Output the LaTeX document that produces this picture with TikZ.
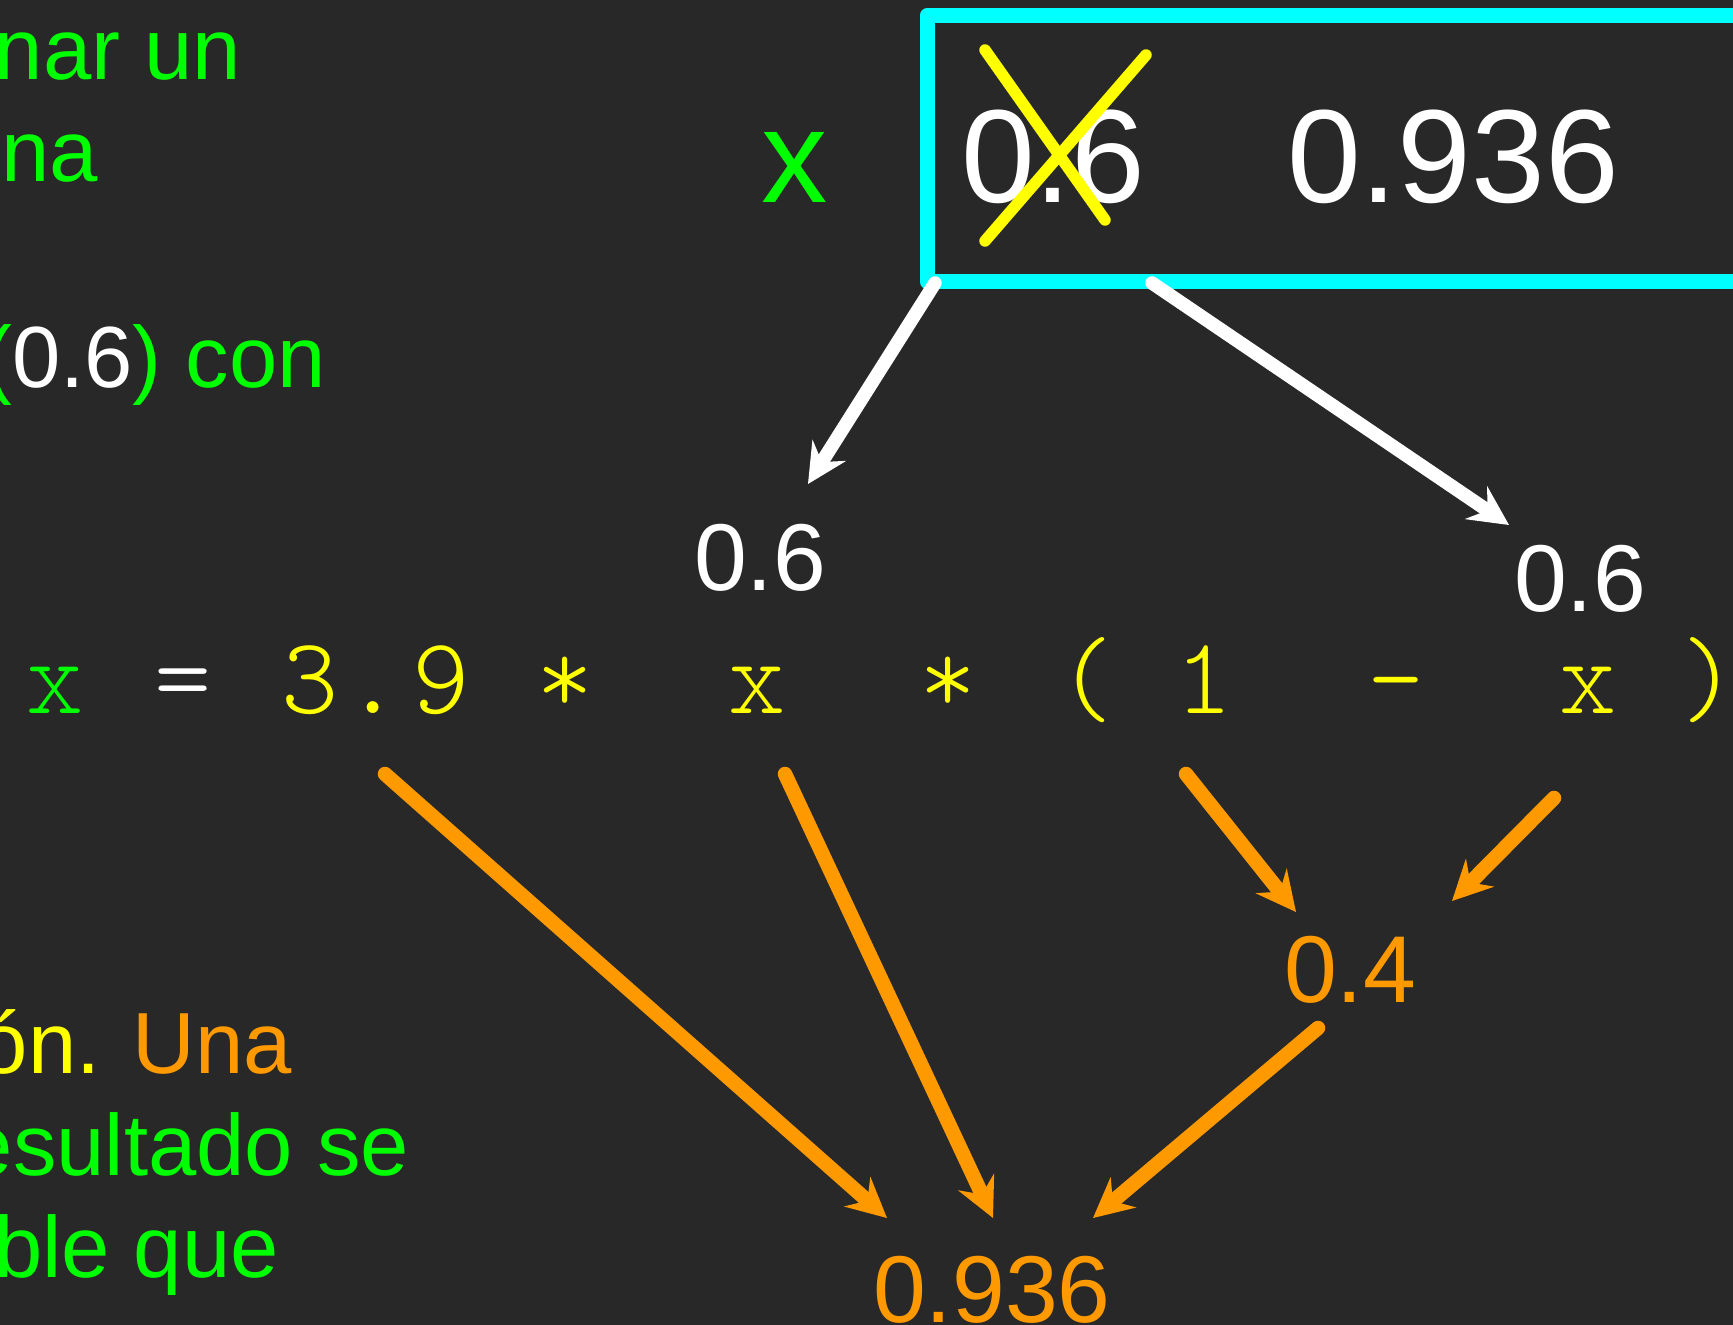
\documentclass[tikz,border=0pt]{standalone}
\usepackage{fontspec}
\setmainfont{Liberation Sans}
\newfontfamily\codefont{lmmonolt10-regular.otf}
\usetikzlibrary{arrows.meta}
\definecolor{bg}{RGB}{40,40,40}
\definecolor{grn}{RGB}{0,255,0}
\definecolor{ylw}{RGB}{255,255,0}
\definecolor{org}{RGB}{255,153,0}
\definecolor{cyn}{RGB}{0,255,255}
\begin{document}
\begin{tikzpicture}[x=0.01cm,y=-0.01cm,
  txt/.style={inner sep=0pt, outer sep=0pt},
  lefttext/.style={txt, anchor=base east, font=\fontsize{24.7pt}{29pt}\selectfont},
  bigtext/.style={txt, anchor=base west, font=\fontsize{37.7pt}{45pt}\selectfont, text=white},
  valtext/.style={txt, anchor=base, font=\fontsize{27pt}{32pt}\selectfont},
  code/.style={txt, anchor=base, font=\codefont\fontsize{31pt}{37pt}\selectfont, text=ylw},
  myhead/.style={-{Stealth[length=0.4cm,width=0.4cm,inset=0.14cm,line width=0pt]}},
  whitearrow/.style={draw=white, line width=0.135cm, line cap=round, myhead},
  orangearrow/.style={draw=org, line width=0.145cm, line cap=round, myhead},
]
\fill[bg] (0,0) rectangle (1733,1325);
\useasboundingbox (0,0) rectangle (1733,1325);

% left explanatory text fragments
\node[lefttext, text=grn] (l1) at (241,80) {nar un};
\node[lefttext, text=grn] (l2) at (98,182) {na};
\node[lefttext, text=grn] (l3) at (326,388) {(\textcolor{white}{0.6}) con};
\node[lefttext, text=ylw] (l4) at (292,1073) {ón. \textcolor{org}{Una}};
\node[lefttext, text=grn] (l5) at (409,1175) {esultado se};
\node[lefttext, text=grn] (l6) at (279,1277) {ble que};

% variable box
\draw[cyn, line width=0.15cm, line join=round] (927,15.5) rectangle (1850,282);
\node[bigtext, text=grn, anchor=base] (xlab) at (795,203) {x};
\node[bigtext] (old) at (961,203) {0.6};
\node[bigtext] (new) at (1287,203) {0.936};
\draw[ylw, line width=0.115cm, line cap=round] (985,50) -- (1105,220);
\draw[ylw, line width=0.115cm, line cap=round] (1146,55) -- (985,241);

% values read
\node[valtext, text=white] (v1) at (760,591) {0.6};
\node[valtext, text=white] (v2) at (1580,612) {0.6};
\node[valtext, text=org] (v4) at (1350,1002) {0.4};
\node[valtext, text=org] (res) at (992,1322) {0.936};

% code line
\node[code, text=grn] (cx) at (55,714) {x};
\node[code, text=white] (ceq) at (183,714) {=};
\node[code] (c3) at (310,714) {3};
\node[code] (cdot) at (373,714) {.};
\node[code] (c9) at (441,714) {9};
\node[code] (cm1) at (565,714) {*};
\node[code] (cx1) at (757,714) {x};
\node[code] (cm2) at (948,714) {*};
\node[code] (clp) at (1086,714) {(};
\node[code] (c1) at (1204,714) {1};
\node[code] (cmin) at (1396,714) {-};
\node[code] (cx2) at (1588,714) {x};
\node[code] (crp) at (1709,714) {)};

% arrow end points
\coordinate (w1s) at (935,283);  \coordinate (w1e) at (808,484);
\coordinate (w2s) at (1152,283); \coordinate (w2e) at (1509,525);
\coordinate (o1s) at (385,774);  \coordinate (o1e) at (887,1218);
\coordinate (o2s) at (785,774);  \coordinate (o2e) at (993,1218);
\coordinate (o3s) at (1186,774); \coordinate (o3e) at (1296,912);
\coordinate (o4s) at (1554,798); \coordinate (o4e) at (1452,901);
\coordinate (o5s) at (1318,1028); \coordinate (o5e) at (1093,1218);

\draw[whitearrow] (w1s) -- (w1e);
\draw[whitearrow] (w2s) -- (w2e);
\draw[orangearrow] (o1s) -- (o1e);
\draw[orangearrow] (o2s) -- (o2e);
\draw[orangearrow] (o3s) -- (o3e);
\draw[orangearrow] (o4s) -- (o4e);
\draw[orangearrow] (o5s) -- (o5e);
\end{tikzpicture}
\end{document}
